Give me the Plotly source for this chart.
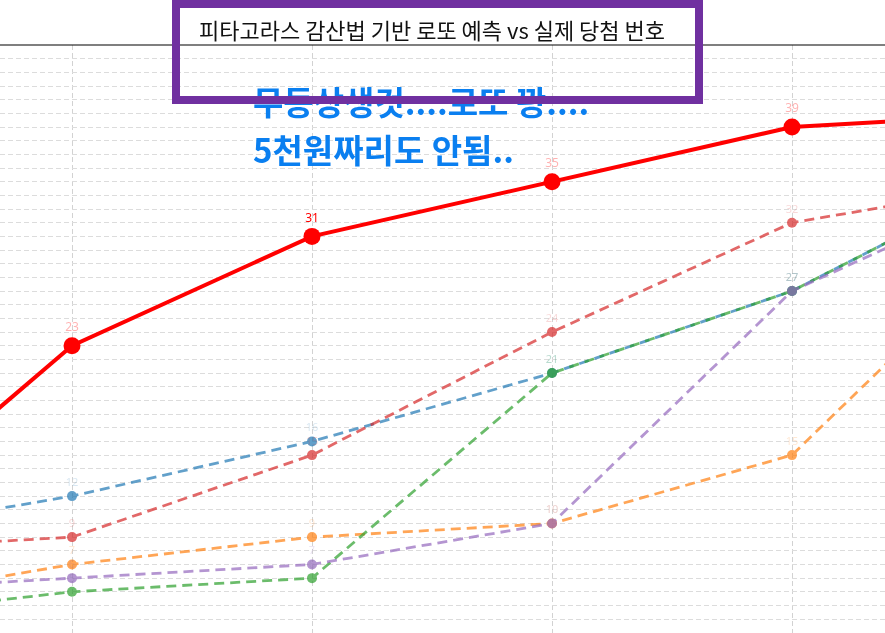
import plotly.graph_objects as go

# Ball position within a draw (1st .. 6th number)
positions = [1, 2, 3, 4, 5, 6]

# Actual winning numbers
actual_numbers = [8, 23, 31, 35, 39, 40]

# Five predicted sets from the Pythagorean subtraction method
pred_set_1 = [9, 12, 16, 21, 27, 36]
pred_set_2 = [4, 7, 9, 10, 15, 32]
pred_set_3 = [3, 5, 6, 21, 27, 36]
pred_set_4 = [8, 9, 15, 24, 32, 35]
pred_set_5 = [5, 6, 7, 10, 27, 35]

pred_names = ["예측 1", "예측 2", "예측 3", "예측 4", "예측 5"]
pred_sets = [pred_set_1, pred_set_2, pred_set_3, pred_set_4, pred_set_5]
pred_colors = ["#1f77b4", "#ff7f0e", "#2ca02c", "#d62728", "#9467bd"]
pred_label_colors = ["rgba(31,119,180,0.25)", "rgba(255,127,14,0.25)",
                     "rgba(44,160,44,0.25)", "rgba(214,39,40,0.25)",
                     "rgba(148,103,189,0.25)"]

title_text = "피타고라스 감산법 기반 로또 예측 vs 실제 당첨 번호"
note_line_1 = "무등상생것....로또 꽝...."
note_line_2 = "5천원짜리도 안됨.."

W, H = 885, 633
TOP = 45
plot_h = H - TOP

fig = go.Figure()

for name, vals, col, lcol in zip(pred_names, pred_sets, pred_colors, pred_label_colors):
    fig.add_trace(go.Scatter(
        x=positions, y=vals, name=name,
        mode="lines+markers+text",
        line=dict(color=col, width=2.8, dash="10px,6px"),
        marker=dict(color=col, size=10),
        opacity=0.7,
        text=[str(v) for v in vals],
        textposition="top center",
        textfont=dict(color=lcol, size=11, family="Noto Sans"),
        cliponaxis=True,
        showlegend=False,
    ))

actual_label_colors = ["rgba(255,0,0,0.3)"] * len(actual_numbers)
actual_label_colors[2] = "#ff0000"
fig.add_trace(go.Scatter(
    x=positions, y=actual_numbers, name="실제 당첨 번호",
    mode="lines+markers+text",
    line=dict(color="#ff0000", width=4),
    marker=dict(color="#ff0000", size=17),
    text=[str(v) for v in actual_numbers],
    textposition="top center",
    textfont=dict(color=actual_label_colors, size=12, family="Noto Sans"),
    cliponaxis=True,
    showlegend=False,
))

def py(pix):
    """paper y coordinate for a pixel row measured from the top of the page"""
    return (H - pix) / plot_h

annotations = [
    dict(text=f"<b>{note_line_1}</b>", xref="paper", yref="paper",
         x=251 / W, y=py(101), xanchor="left", yanchor="middle",
         showarrow=False,
         font=dict(family="Noto Sans CJK KR", size=33, color="#0a7ff0")),
    dict(text=f"<b>{note_line_2}</b>", xref="paper", yref="paper",
         x=251 / W, y=py(149), xanchor="left", yanchor="middle",
         showarrow=False,
         font=dict(family="Noto Sans CJK KR", size=33, color="#0a7ff0")),
    dict(text=title_text, xref="paper", yref="paper",
         x=432 / W, y=py(29), xanchor="center", yanchor="middle",
         showarrow=False,
         font=dict(family="Noto Sans CJK KR", size=22, color="#111111")),
    # purple frame around the heading
    dict(text=" ", xref="paper", yref="paper",
         x=437.5 / W, y=py(0), xanchor="center", yanchor="top",
         showarrow=False, width=515, height=88,
         bordercolor="#7030a0", borderwidth=8, borderpad=0,
         bgcolor="rgba(0,0,0,0)", font=dict(size=2)),
]

fig.update_layout(
    width=W, height=H,
    margin=dict(l=0, r=0, t=TOP, b=0, autoexpand=False),
    paper_bgcolor="white", plot_bgcolor="white",
    annotations=annotations,
    shapes=[dict(type="line", xref="paper", yref="paper", x0=0, x1=1, y0=1, y1=1,
                 line=dict(color="black", width=1.2))],
    xaxis=dict(range=[1.7, 1.7 + W / 240.0], tickvals=positions,
               showgrid=True, gridcolor="#d2d2d2", griddash="5px,3px", gridwidth=1,
               showticklabels=False, zeroline=False, showline=False, ticks=""),
    yaxis=dict(range=[45 - plot_h / 13.67, 45], tick0=0, dtick=1,
               showgrid=True, gridcolor="#dcdcdc", griddash="5px,3px", gridwidth=1,
               showticklabels=False, zeroline=False, showline=False, ticks=""),
)

fig.write_html("out.html")
